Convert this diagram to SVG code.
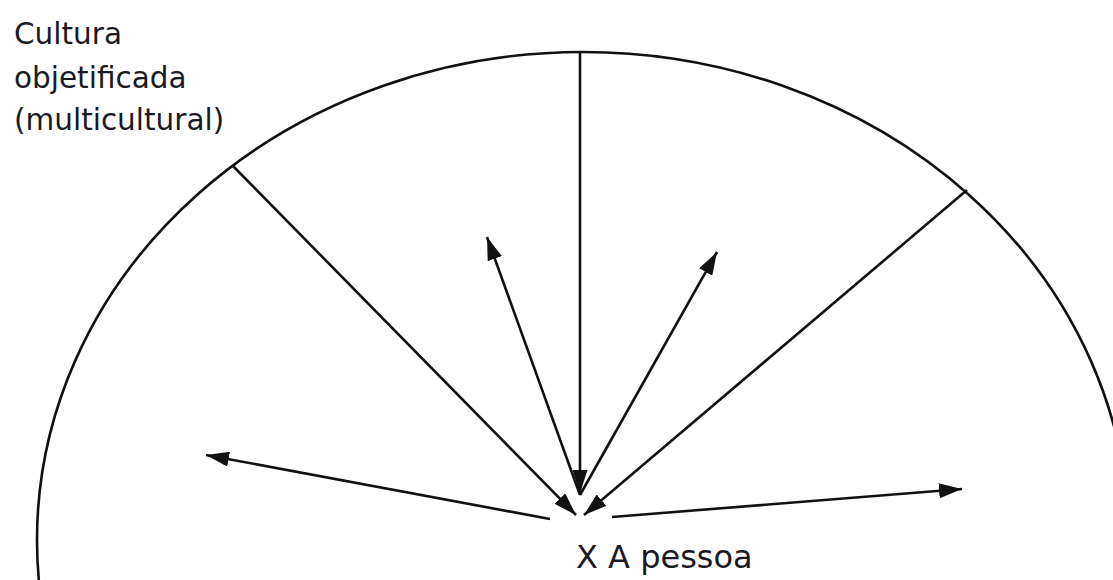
<svg xmlns="http://www.w3.org/2000/svg" width="1113" height="580" viewBox="0 0 1113 580">
<style>
.ln{stroke:#111;stroke-width:2.6;fill:none}
.t{font-family:"DejaVu Sans","Noto Sans",sans-serif;fill:#1a1a24}
</style>
<defs>
<marker id="ah" viewBox="0 0 23 15" refX="23" refY="7.5" markerWidth="23" markerHeight="15" markerUnits="userSpaceOnUse" orient="auto">
<path d="M0,0 L23,7.5 L0,15 Z" fill="#111"/>
</marker>
</defs>
<rect width="1113" height="580" fill="#fff"/>
<g id="arc">
<ellipse class="ln" cx="583" cy="540" rx="546" ry="488"/>
</g>
<g id="connectors">
<line class="ln" x1="232" y1="165" x2="576" y2="515" marker-end="url(#ah)"/>
<line class="ln" x1="967" y1="190" x2="584" y2="515" marker-end="url(#ah)"/>
<line class="ln" x1="580" y1="52" x2="580" y2="493" marker-end="url(#ah)"/>
<line class="ln" x1="580" y1="495" x2="487" y2="237" marker-end="url(#ah)"/>
<line class="ln" x1="580" y1="495" x2="717" y2="252" marker-end="url(#ah)"/>
<line class="ln" x1="550" y1="519" x2="206" y2="455" marker-end="url(#ah)"/>
<line class="ln" x1="612" y1="517" x2="962" y2="489" marker-end="url(#ah)"/>
</g>
<g id="label-cultura">
<text class="t" font-size="29.5" x="14" y="44">Cultura</text>
<text class="t" font-size="29.5" x="14" y="88">objetificada</text>
<text class="t" font-size="29.5" x="14" y="130">(multicultural)</text>
</g>
<g id="label-pessoa">
<text class="t" font-size="32" x="576" y="568">X A pessoa</text>
</g>
</svg>
